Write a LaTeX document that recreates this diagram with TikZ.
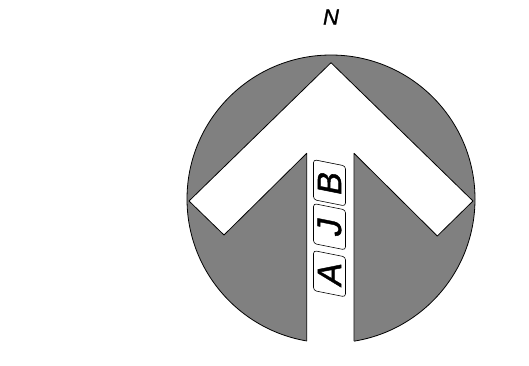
\documentclass[tikz,border=0pt]{standalone}
\usepackage{fontspec}
\newfontfamily\signfont[FakeBold=1.2]{Liberation Sans}
\definecolor{dialgray}{RGB}{128,128,128}

\begin{document}
\begin{tikzpicture}[x=1pt, y=-1pt, line join=round]
    \useasboundingbox (0,0) rectangle (529,365);
    \tikzset{letterbox/.style={draw, fill=white, line width=0.6, rounded corners=3pt, rotate=90, xslant=0.2,
        minimum width=40, minimum height=32, inner sep=0pt,
        font=\signfont\fontsize{34}{34}\selectfont}}
    \node[font=\signfont\itshape\fontsize{22}{22}\selectfont] (north) at (331, 17) {N};
    % dial
    \fill[dialgray] (331, 199) circle[radius=144];
    \draw[line width=0.8] (331, 199) circle[radius=144];
    % arrow
    \fill[white] (306.7, 346) -- (306.7, 153.3) -- (224, 235) -- (189, 201) -- (331, 62.7)
      -- (473, 201) -- (437.3, 236) -- (354, 153.3) -- (354, 346) -- cycle;
    \draw[line width=0.8] (306.7, 341) -- (306.7, 153.3) -- (224, 235) -- (189, 201) -- (331, 62.7)
      -- (473, 201) -- (437.3, 236) -- (354, 153.3) -- (354, 341);
    \node[letterbox] (a) at (329.5, 273.7) {A};
    \node[letterbox] (j) at (329.5, 226.7) {J};
    \node[letterbox] (b) at (329.5, 182.8) {B};
  \end{tikzpicture}
\end{document}
